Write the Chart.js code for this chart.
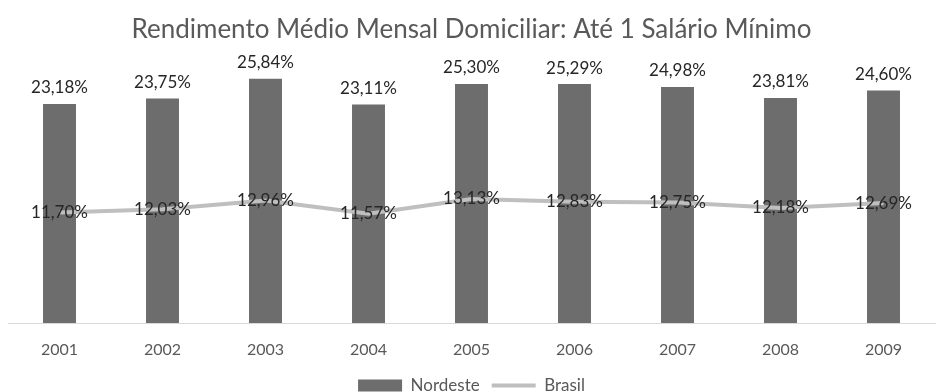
<!DOCTYPE html>
<html>
<head>
<meta charset="utf-8">
<script src="https://cdn.jsdelivr.net/npm/chart.js@4"></script>
<style>
  html, body { margin: 0; padding: 0; background: #fff; }
  #wrap { width: 947px; height: 392px; }
</style>
</head>
<body>
<div id="wrap"><canvas id="chart"></canvas></div>
<script>
const years = ['2001', '2002', '2003', '2004', '2005', '2006', '2007', '2008', '2009'];
const nordeste = [23.18, 23.75, 25.84, 23.11, 25.30, 25.29, 24.98, 23.81, 24.60];
const brasil = [11.70, 12.03, 12.96, 11.57, 13.13, 12.83, 12.75, 12.18, 12.69];

const FONT = 'Lato, "Open Sans", sans-serif';

function pct(v) {
    return v.toFixed(2).replace('.', ',') + '%';
}

// value labels: above the bars, centred on the line points
const valueLabels = {
    id: 'valueLabels',
    afterDatasetsDraw(chart) {
        const ctx = chart.ctx;
        ctx.save();
        ctx.font = '17px ' + FONT;
        ctx.fillStyle = '#262626';
        ctx.textAlign = 'center';
        ctx.textBaseline = 'middle';
        chart.getDatasetMeta(0).data.forEach((bar, i) => {
            ctx.fillText(pct(nordeste[i]), bar.x, bar.y - 16);
        });
        chart.getDatasetMeta(1).data.forEach((pt, i) => {
            ctx.fillText(pct(brasil[i]), pt.x, pt.y);
        });
        ctx.restore();
    }
};

new Chart(document.getElementById('chart'), {
    type: 'bar',
    data: {
        labels: years,
        datasets: [
            {
                label: 'Nordeste',
                data: nordeste,
                backgroundColor: '#6d6d6d',
                borderWidth: 0,
                barPercentage: 0.64,
                categoryPercentage: 0.5,
                pointStyle: 'rect',
                order: 2,
            },
            {
                type: 'line',
                label: 'Brasil',
                data: brasil,
                borderColor: '#bfbfbf',
                backgroundColor: '#bfbfbf',
                borderWidth: 4,
                pointRadius: 0,
                tension: 0,
                pointStyle: 'line',
                order: 1,
            }
        ]
    },
    options: {
        responsive: true,
        maintainAspectRatio: false,
        animation: false,
        layout: { padding: { left: 8, right: 12, top: 0, bottom: -12 } },
        scales: {
            x: {
                grid: { display: false, drawTicks: false },
                border: { color: '#d9d9d9', width: 1 },
                ticks: { color: '#595959', font: { family: FONT, size: 16 }, padding: 17 },
                afterFit: (scale) => { scale.height = 42; }
            },
            y: {
                display: false,
                min: 0,
                max: 28.34
            }
        },
        plugins: {
            title: {
                display: true,
                text: 'Rendimento Médio Mensal Domiciliar: Até 1 Salário Mínimo',
                color: '#595959',
                font: { family: FONT, size: 26, weight: 'normal' },
                padding: { top: 14, bottom: 10 }
            },
            legend: {
                position: 'bottom',
                labels: {
                    usePointStyle: true,
                    pointStyleWidth: 44,
                    boxHeight: 12,
                    padding: 12,
                    color: '#595959',
                    font: { family: FONT, size: 17 },
                    sort: (a, b) => a.datasetIndex - b.datasetIndex
                }
            },
            tooltip: { enabled: false }
        }
    },
    plugins: [valueLabels]
});
</script>
</body>
</html>
